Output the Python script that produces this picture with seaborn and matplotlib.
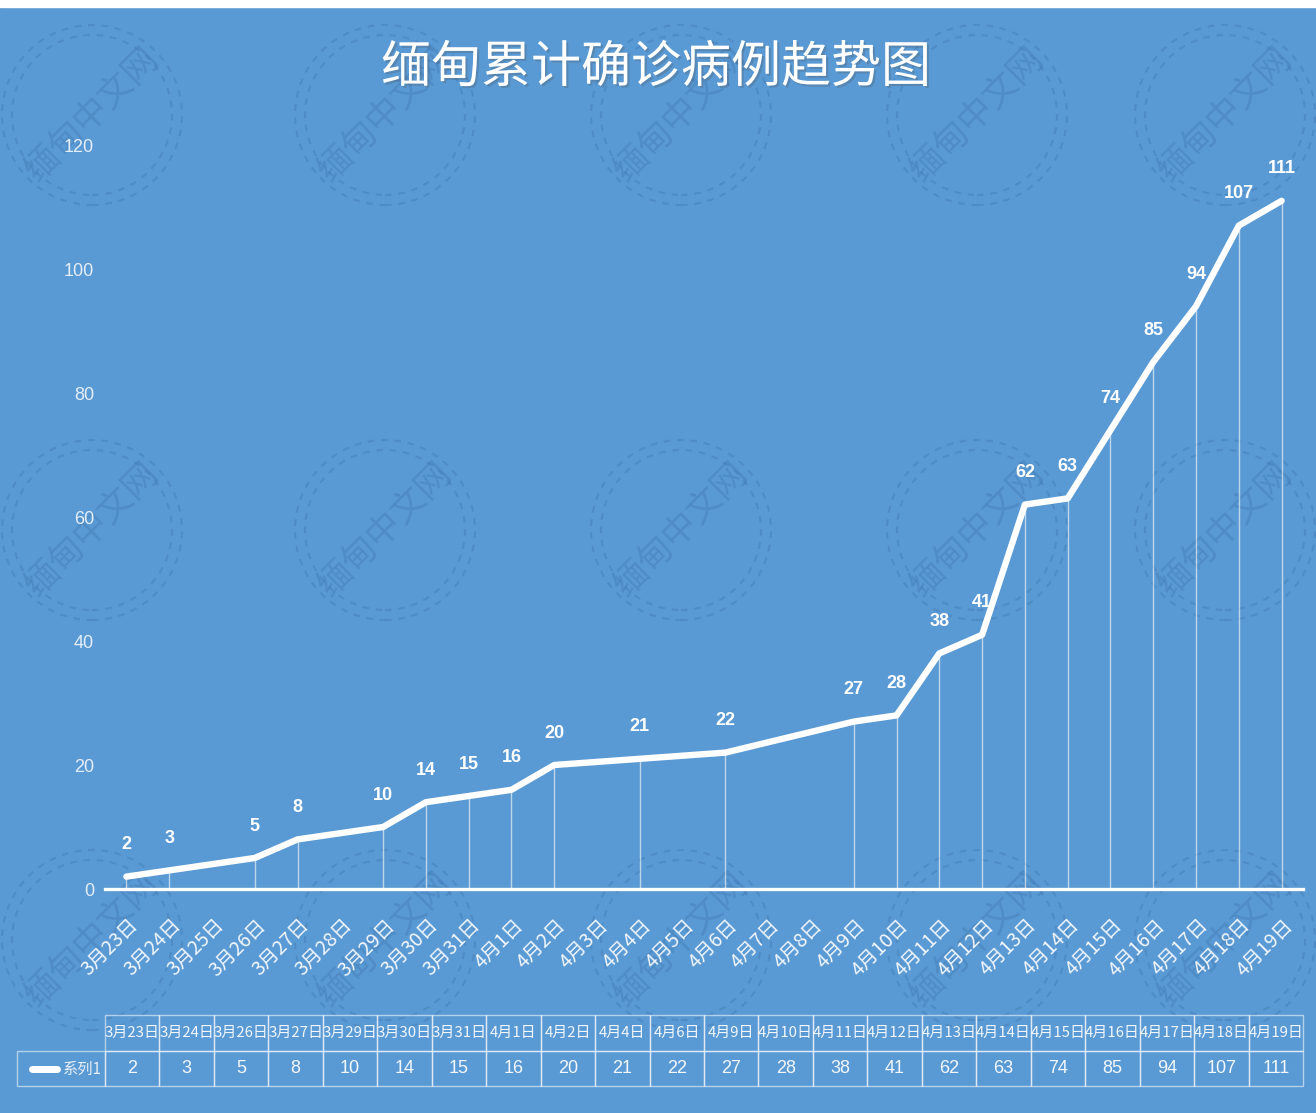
import matplotlib
matplotlib.use('Agg')
import matplotlib.pyplot as plt
import matplotlib.patheffects as pe
from matplotlib.patches import Ellipse, Rectangle
from matplotlib.transforms import ScaledTranslation
import seaborn as sns
import pandas as pd
import numpy as np

# ---------------- data ----------------
title = '缅甸累计确诊病例趋势图'
series_name = '系列1'
dates = ['3月23日', '3月24日', '3月26日', '3月27日', '3月29日', '3月30日', '3月31日',
         '4月1日', '4月2日', '4月4日', '4月6日', '4月9日', '4月10日', '4月11日',
         '4月12日', '4月13日', '4月14日', '4月15日', '4月16日', '4月17日',
         '4月18日', '4月19日']
cases = [2, 3, 5, 8, 10, 14, 15, 16, 20, 21, 22, 27, 28, 38, 41, 62, 63, 74, 85, 94, 107, 111]
y_ticks = [0, 20, 40, 60, 80, 100, 120]
axis_start = '2020-03-23'
axis_end = '2020-04-19'
watermark = '缅甸中文网'

# ---------------- style ----------------
BG = '#5A9AD4'
CJK = ['Noto Sans CJK SC', 'DejaVu Sans']
NUM = ['Liberation Sans', 'DejaVu Sans']
sns.set_theme(style='white')
plt.rcParams['font.family'] = CJK
plt.rcParams['axes.unicode_minus'] = False

W, H = 1316, 1113
fig = plt.figure(figsize=(W / 100, H / 100), dpi=100, facecolor=BG)

# axes geometry (pixels)
ax_l, ax_r, ax_top, ax_bot = 105, 1303, 145, 889
ax = fig.add_axes([ax_l / W, 1 - ax_bot / H, (ax_r - ax_l) / W, (ax_bot - ax_top) / H])
ax.set_facecolor('none')

# ---------------- watermarks ----------------
wm_x = [92, 385, 681, 977, 1225]
wm_y = [115, 530, 940]
for cx in wm_x:
    for cy in wm_y:
        fx, fy = cx / W, 1 - cy / H
        for r in (90, 80):
            e = Ellipse((fx, fy), 2 * r / W, 2 * r / H, transform=fig.transFigure,
                        fill=False, ec='#3F78B2', lw=1.6, ls=(0, (3, 3)), alpha=0.4, zorder=-2)
            fig.patches.append(e)
        fig.text(fx, fy, watermark, rotation=45, ha='center', va='center', fontsize=25,
                 color='#3F78B2', alpha=0.4, zorder=-2, family=CJK)

# ---------------- data prep ----------------
start = pd.Timestamp(axis_start)
axis_days = pd.date_range(axis_start, axis_end, freq='D')
axis_labels = [f'{d.month}月{d.day}日' for d in axis_days]


def to_day(s):
    m, rest = s.split('月')
    d = rest.rstrip('日')
    return (pd.Timestamp(year=start.year, month=int(m), day=int(d)) - start).days


df = pd.DataFrame({'label': dates, 'cases': cases})
df['day'] = df['label'].map(to_day)

# ---------------- plot ----------------
ax.vlines(df['day'], 0, df['cases'], color='white', lw=1.0, alpha=0.6, zorder=2)
sns.lineplot(data=df, x='day', y='cases', ax=ax, color='white', lw=4.6,
             solid_capstyle='round', solid_joinstyle='round', zorder=4, legend=False)

for xd, v in zip(df['day'], df['cases']):
    ax.annotate(str(v), (xd, v), xytext=(0, 23), textcoords='offset points',
                ha='center', va='center', color='white', fontsize=13,
                fontweight='bold', family=NUM, zorder=5)

ax.set_xlim(-0.5, len(axis_days) - 0.5)
ax.set_ylim(0, 120)
ax.set_xlabel('')
ax.set_ylabel('')

ax.set_xticks(range(len(axis_days)))
ax.set_xticklabels(axis_labels, rotation=45, ha='right', va='center',
                   rotation_mode='anchor', fontsize=14, color='#F2F7FC', family=CJK)
ax.set_xticks(np.arange(-0.5, len(axis_days), 1), minor=True)
ax.tick_params(axis='x', which='major', length=0, pad=24)
ax.tick_params(axis='x', which='minor', length=6, width=1.6, color='white', direction='out')
shift = ScaledTranslation(9 / 100, 0, fig.dpi_scale_trans)
for lab in ax.get_xticklabels():
    lab.set_transform(lab.get_transform() + shift)

ax.set_yticks(y_ticks)
ax.set_yticklabels([str(t) for t in y_ticks], family=NUM, fontsize=13, color='#E4EEF8')
ax.tick_params(axis='y', length=0, pad=8)

for s in ('top', 'right', 'left'):
    ax.spines[s].set_visible(False)
ax.spines['bottom'].set_color('white')
ax.spines['bottom'].set_linewidth(2.4)
ax.spines['bottom'].set_zorder(3)
ax.grid(False)

# ---------------- data table ----------------
span = ax_r - ax_l
leg_left = 17
tbl_top, tbl_bot = 1015, 1086
leg_w = (ax_l - leg_left) / span
col_w = 1 / len(dates)
y0 = (ax_bot - tbl_bot) / (ax_bot - ax_top)
hgt = (tbl_bot - tbl_top) / (ax_bot - ax_top)
tbl = ax.table(cellText=[[''] + [str(v) for v in cases]],
               colLabels=[''] + dates,
               colWidths=[leg_w] + [col_w] * len(dates),
               cellLoc='center', colLoc='center',
               bbox=[-leg_w, y0, 1 + leg_w, hgt])
tbl.auto_set_font_size(False)
edge = (1, 1, 1, 0.55)
for (r, c), cell in tbl.get_celld().items():
    cell.set_facecolor('none')
    cell.set_edgecolor(edge)
    cell.set_linewidth(1.0)
    t = cell.get_text()
    t.set_color('#F2F7FC')
    if r == 0:
        t.set_fontfamily(CJK)
        t.set_fontsize(10.8)
    else:
        t.set_fontfamily(NUM)
        t.set_fontsize(13)
    if r == 0 and c == 0:
        cell.set_edgecolor('none')

# legend key inside table
ky = (ax_bot - 1069) / (ax_bot - ax_top)
ax.plot([(32 - ax_l) / span, (57 - ax_l) / span], [ky, ky], transform=ax.transAxes,
        color='white', lw=5, solid_capstyle='round', clip_on=False)
ax.text((102 - ax_l) / span, ky, series_name, transform=ax.transAxes, ha='right', va='center',
        color='#E8F0F8', fontsize=11, family=CJK)

# ---------------- title & frame ----------------
fig.text(656 / W, 1 - 68 / H, title, ha='center', va='center', fontsize=36,
         color='white', family=CJK,
         path_effects=[pe.withSimplePatchShadow(offset=(1.5, -1.5), alpha=0.25)])
fig.patches.append(Rectangle((0, 1 - 7 / H), 1, 7 / H, transform=fig.transFigure,
                             color='white', zorder=10))

fig.savefig('out.png', dpi=100, facecolor=BG)
